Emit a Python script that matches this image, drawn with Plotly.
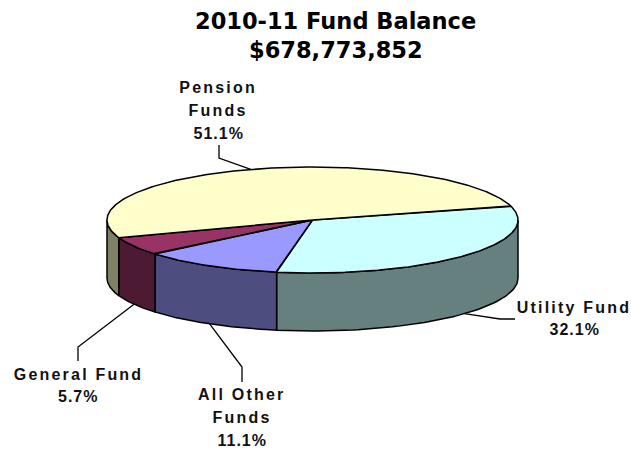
import numpy as np
import plotly.graph_objects as go

# Data (clockwise from the Pension / Utility boundary)
categories = ["Utility Fund", "All Other Funds", "General Fund", "Pension Funds"]
shares = [32.1, 11.1, 5.7, 51.1]
title_lines = ["2010-11 Fund Balance", "$678,773,852"]

top_colors = ["#CCFFFF", "#9999FF", "#993366", "#FFFFCC"]
side_colors = ["#668080", "#4D4D80", "#4D1A33", "#808066"]

# Pie geometry in pixels
CX, CY, RX, RY, DEPTH = 312.5, 220.0, 205.5, 53.0, 58.0
START = 15.5

def px(t):
    return CX + RX * np.cos(np.radians(t))

def py(t):
    return CY - RY * np.sin(np.radians(t))

edges = START - np.cumsum([0] + [s * 3.6 for s in shares])
mids = (edges[:-1] + edges[1:]) / 2

fig = go.Figure()
LINE = dict(color="black", width=1.5)

# Side walls: only the front half (angles 0 to -180) can be seen
for i, cat in enumerate(categories):
    a, b = min(edges[i], 0), max(edges[i + 1], -180)
    t = np.linspace(a, b, 80)
    x = np.r_[px(t), px(t[::-1]), px(t[0])]
    y = np.r_[py(t), py(t[::-1]) + DEPTH, py(t[0])]
    fig.add_trace(go.Scatter(x=x, y=y, mode="lines", fill="toself", fillcolor=side_colors[i],
                             line=LINE, hoverinfo="skip", showlegend=False))

# Leader lines, anchored on the middle of each slice's rim
bends = {
    "Utility Fund": [(500, 319), (515, 319)],
    "All Other Funds": [(242, 367), (242, 382)],
    "General Fund": [(78, 347), (78, 361)],
    "Pension Funds": [(219, 158), (219, 145)],
}
for i, cat in enumerate(categories):
    front = np.sin(np.radians(mids[i])) < 0
    ax, ay = px(mids[i]), py(mids[i]) + (DEPTH if front else 0)
    xs = [ax] + [p[0] for p in bends[cat]]
    ys = [ay] + [p[1] for p in bends[cat]]
    fig.add_trace(go.Scatter(x=xs, y=ys, mode="lines", line=dict(color="black", width=1.3),
                             hoverinfo="skip", showlegend=False))

# Top faces
for i, cat in enumerate(categories):
    t = np.linspace(edges[i], edges[i + 1], 200)
    x = np.r_[CX, px(t), CX]
    y = np.r_[CY, py(t), CY]
    fig.add_trace(go.Scatter(x=x, y=y, mode="lines", fill="toself", fillcolor=top_colors[i],
                             line=LINE, name=cat, hoverinfo="name", showlegend=False))

LABEL_FONT = dict(family="Liberation Sans", size=16, color="#111111")
label_layout = {
    "Utility Fund": (574, [307, 329], ["Utility Fund"]),
    "All Other Funds": (242, [394, 417, 440], ["All Other", "Funds"]),
    "General Fund": (78, [374, 396], ["General Fund"]),
    "Pension Funds": (218, [87, 110, 133], ["Pension", "Funds"]),
}
annotations = []
for i, cat in enumerate(categories):
    cx, ys, words = label_layout[cat]
    for yy, txt in zip(ys, words + [f"{shares[i]:.1f}%"]):
        annotations.append(dict(x=cx, y=yy, xref="x", yref="y", text=f"<b>{txt}</b>", showarrow=False,
                                xanchor="center", yanchor="middle", font=LABEL_FONT))
for yy, txt in zip([21, 50], title_lines):
    annotations.append(dict(x=335.5, y=yy, xref="x", yref="y", text=f"<b>{txt}</b>", showarrow=False,
                            xanchor="center", yanchor="middle",
                            font=dict(family="DejaVu Sans", size=22.5, color="black")))

fig.update_layout(
    width=631, height=449, margin=dict(l=0, r=0, t=0, b=0),
    paper_bgcolor="white", plot_bgcolor="white", showlegend=False,
    xaxis=dict(range=[0, 631], visible=False, fixedrange=True),
    yaxis=dict(range=[449, 0], visible=False, fixedrange=True),
    annotations=annotations,
)

post = """
document.documentElement.style.margin='0';
document.body.style.margin='0';
document.querySelectorAll('.annotation-text').forEach(function(t){
  var s=t.textContent;
  if(s.indexOf('Fund Balance')>=0||s.indexOf('$')>=0){return;}
  t.style.letterSpacing = s.indexOf('%')>=0 ? '1px' : '2.2px';
});
"""
fig.write_html("out.html", config={"displayModeBar": False}, post_script=post)
